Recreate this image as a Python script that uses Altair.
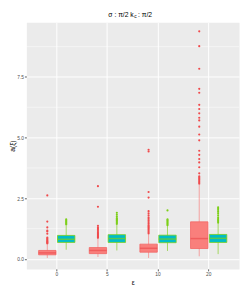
import altair as alt
import pandas as pd

eps = ["0", "5", "10", "20"]
series = ["A", "B"]

# red series (A) box statistics per epsilon
a_lower = [0.04, 0.08, 0.04, 0.11]
a_q1 = [0.17, 0.22, 0.28, 0.43]
a_med = [0.25, 0.35, 0.44, 0.84]
a_q3 = [0.35, 0.47, 0.61, 1.53]
a_upper = [0.60, 0.83, 1.02, 3.05]

# cyan series (B) box statistics per epsilon
b_lower = [0.38, 0.35, 0.33, 0.20]
b_q1 = [0.68, 0.68, 0.67, 0.68]
b_med = [0.81, 0.84, 0.82, 0.85]
b_q3 = [0.97, 1.00, 0.98, 1.01]
b_upper = [1.38, 1.40, 1.38, 1.48]

a_out_0 = [0.64, 0.67, 0.70, 0.73, 0.76, 0.80, 0.84, 0.88, 1.04, 1.13, 1.17, 1.30, 1.54, 2.62]
a_out_5 = [0.87, 0.90, 0.94, 0.98, 1.02, 1.06, 1.10, 1.15, 1.20, 1.25, 1.30, 1.37, 2.15, 3.00]
a_out_10 = [1.05, 1.10, 1.15, 1.20, 1.25, 1.30, 1.35, 1.40, 1.46, 1.52, 1.58, 1.65, 1.72, 1.80,
            1.88, 1.97, 2.53, 2.76, 4.43, 4.50]
a_out_20 = [3.10, 3.15, 3.20, 3.25, 3.30, 3.35, 3.40, 3.53, 3.78, 3.98, 4.12, 4.29, 4.46, 4.89,
            5.13, 5.45, 5.71, 5.82, 6.00, 6.18, 6.35, 6.85, 7.01, 7.84, 8.77, 9.38]

b_out_0 = [1.42, 1.46, 1.50, 1.54, 1.58, 1.63]
b_out_5 = [1.44, 1.48, 1.52, 1.56, 1.60, 1.64, 1.68, 1.75, 1.82, 1.90]
b_out_10 = [1.39, 1.43, 1.47, 1.51, 1.55, 1.59, 1.63, 2.00]
b_out_20 = [1.50, 1.55, 1.60, 1.65, 1.72, 1.80, 1.88, 1.95, 2.02, 2.08, 2.13]

y_ticks = [0, 2.5, 5, 7.5]
minor_breaks = [1.25, 3.75, 6.25, 8.75]

rows = []
for i, e in enumerate(eps):
    rows.append(dict(eps=e, series="A", lower=a_lower[i], q1=a_q1[i], med=a_med[i],
                     q3=a_q3[i], upper=a_upper[i]))
    rows.append(dict(eps=e, series="B", lower=b_lower[i], q1=b_q1[i], med=b_med[i],
                     q3=b_q3[i], upper=b_upper[i]))
stats = pd.DataFrame(rows)

out_rows = []
for e, a_list, b_list in zip(eps, [a_out_0, a_out_5, a_out_10, a_out_20],
                             [b_out_0, b_out_5, b_out_10, b_out_20]):
    for v in a_list:
        out_rows.append(dict(eps=e, series="A", value=v))
    for v in b_list:
        out_rows.append(dict(eps=e, series="B", value=v))
outliers = pd.DataFrame(out_rows)
minor_df = pd.DataFrame({"v": minor_breaks})
title_df = pd.DataFrame({"t": [0]})

FONT = "Liberation Sans"
ysc = alt.Scale(domain=[-0.41, 9.75], nice=False, zero=False)
yaxis = alt.Axis(values=y_ticks, format=".1f", grid=True, gridColor="white", gridWidth=1,
                 titlePadding=1)

xenc = alt.X("eps:N", sort=eps, title="ε",
             scale=alt.Scale(paddingInner=0, paddingOuter=0.1),
             axis=alt.Axis(grid=True, gridColor="white", gridWidth=1, labelAngle=0,
                           bandPosition=0.5, titlePadding=2))
xo = alt.XOffset("series:N", sort=series,
                 scale=alt.Scale(paddingInner=0.08, paddingOuter=0.38))


def col(a, b):
    return alt.when(alt.datum.series == "A").then(alt.value(a)).otherwise(alt.value(b))


minor = alt.Chart(minor_df).mark_rule(color="white", strokeWidth=0.5).encode(
    y=alt.Y("v:Q", scale=ysc, axis=yaxis, title="a(ξ)")
)

base = alt.Chart(stats)
whisk = base.mark_rule(strokeWidth=0.8).encode(
    x=xenc, xOffset=xo,
    y=alt.Y("lower:Q", scale=ysc, title="a(ξ)"), y2="upper:Q",
    color=col("#F68C8A", "#8FD23A"),
)
box = base.mark_bar(strokeWidth=0.8).encode(
    x=xenc, xOffset=xo,
    y=alt.Y("q1:Q", scale=ysc, title="a(ξ)"), y2="q3:Q",
    fill=col("#F97F7C", "#00BCC8"),
    stroke=col("#F26462", "#7CCF18"),
)
med = base.mark_tick(thickness=1.5, size=18, orient="horizontal").encode(
    x=xenc, xOffset=xo,
    y=alt.Y("med:Q", scale=ysc, title="a(ξ)"),
    color=col("#EC4E50", "#7CCF18"),
)
pts = alt.Chart(outliers).mark_circle(size=5, opacity=1).encode(
    x=xenc, xOffset=xo,
    y=alt.Y("value:Q", scale=ysc, title="a(ξ)"),
    color=col("#F04A4C", "#7CCF18"),
)

t1 = alt.Chart(title_df).mark_text(align="right", baseline="middle", fontSize=7, font=FONT,
                                   color="black").encode(
    x=alt.value(111), y=alt.value(-8), text=alt.value("σ : π/2  k"))
t2 = alt.Chart(title_df).mark_text(align="left", baseline="middle", fontSize=5, font=FONT,
                                   color="black").encode(
    x=alt.value(111.5), y=alt.value(-6), text=alt.value("c"))
t3 = alt.Chart(title_df).mark_text(align="left", baseline="middle", fontSize=7, font=FONT,
                                   color="black").encode(
    x=alt.value(115.5), y=alt.value(-8), text=alt.value(": π/2"))

chart = alt.layer(minor, whisk, box, med, pts, t1, t2, t3).properties(
    width=220, height=255,
    padding={"left": 19, "top": 10, "right": 2, "bottom": 18},
    autosize=alt.AutoSizeParams(type="none"),
).configure_view(
    fill="#EBEBEB", stroke="transparent"
).configure_axis(
    domain=False, tickColor="#333333", tickSize=2, tickWidth=0.8,
    labelFontSize=5, labelColor="#4D4D4D", labelFont=FONT, labelPadding=1,
    titleFontSize=7, titleFontWeight="normal", titleFont=FONT, titleColor="black",
)

chart.save("out.html", embed_options={"renderer": "svg", "actions": False})
